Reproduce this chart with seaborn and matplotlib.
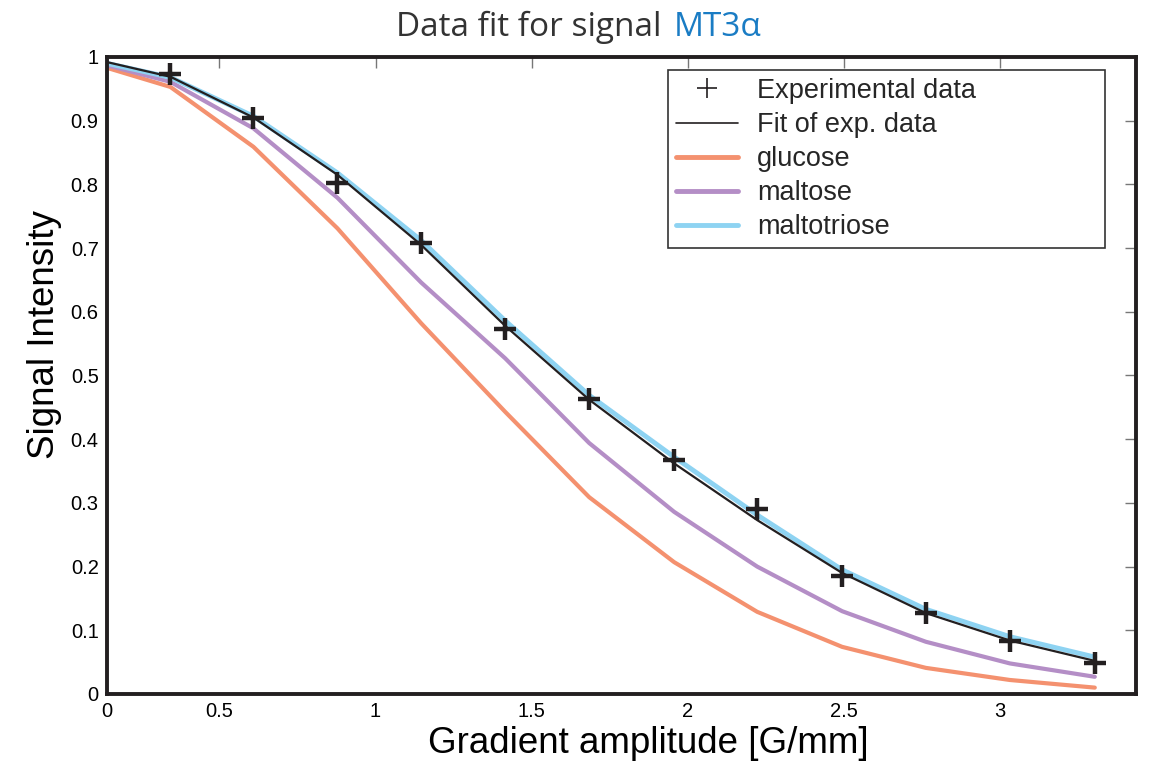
import matplotlib
matplotlib.use("Agg")
import matplotlib.pyplot as plt
import seaborn as sns
from matplotlib.lines import Line2D

# gradient amplitudes of the experimental points [G/mm]
gradient = [0.343, 0.609, 0.878, 1.146, 1.415, 1.684, 1.956, 2.222, 2.494, 2.762, 3.031, 3.303]
experimental = [0.973, 0.904, 0.802, 0.708, 0.573, 0.463, 0.367, 0.290, 0.185, 0.127, 0.083, 0.049]

# curves start at the left edge of the plot
x_start = 0.14
x_curve = [x_start] + gradient
fit = [0.992, 0.969, 0.905, 0.815, 0.705, 0.578, 0.462, 0.362, 0.273, 0.190, 0.127, 0.084, 0.052]
glucose = [0.983, 0.953, 0.859, 0.731, 0.582, 0.443, 0.309, 0.207, 0.129, 0.074, 0.041, 0.022, 0.010]
maltose = [0.987, 0.961, 0.888, 0.779, 0.646, 0.527, 0.394, 0.286, 0.200, 0.130, 0.082, 0.048, 0.027]
maltotriose = [0.990, 0.968, 0.907, 0.818, 0.712, 0.586, 0.469, 0.372, 0.281, 0.195, 0.133, 0.090, 0.058]

xtick_pos = [x_start, 0.5, 1, 1.5, 2, 2.5, 3]
xtick_labels = ["0", "0.5", "1", "1.5", "2", "2.5", "3"]
ytick_pos = [0, 0.1, 0.2, 0.3, 0.4, 0.5, 0.6, 0.7, 0.8, 0.9, 1]
ytick_labels = ["0", "0.1", "0.2", "0.3", "0.4", "0.5", "0.6", "0.7", "0.8", "0.9", "1"]

couleurs = {
    "glucose": "#f4916f",
    "maltose": "#b48ec6",
    "maltotriose": "#8ed3f2",
}
noir = "#231f20"

sns.set_theme(style="white")
plt.rcParams["font.family"] = ["Liberation Sans", "DejaVu Sans"]

fig = plt.figure(figsize=(11.49, 7.66), dpi=100)
ax = fig.add_axes([0.0931, 0.094, 0.8956, 0.8316])

sns.lineplot(x=x_curve, y=glucose, color=couleurs["glucose"], linewidth=3, ax=ax,
             sort=False, estimator=None)
sns.lineplot(x=x_curve, y=maltose, color=couleurs["maltose"], linewidth=3, ax=ax,
             sort=False, estimator=None)
sns.lineplot(x=x_curve, y=maltotriose, color=couleurs["maltotriose"], linewidth=3.5, ax=ax,
             sort=False, estimator=None)
sns.lineplot(x=x_curve, y=fit, color=noir, linewidth=1.6, ax=ax,
             sort=False, estimator=None)
sns.scatterplot(x=gradient, y=experimental, marker="+", s=240, linewidth=3.2,
                color=noir, ax=ax, zorder=5)

ax.set_xlim(x_start, 3.435)
ax.set_ylim(0, 1)
ax.set_xticks(xtick_pos)
ax.set_xticklabels(xtick_labels)
ax.set_yticks(ytick_pos)
ax.set_yticklabels(ytick_labels)
ax.tick_params(axis="both", direction="in", length=8, width=1, color="#777777",
               labelsize=14.5, labelcolor="black", top=True, right=True, pad=6)

for spine in ax.spines.values():
    spine.set_linewidth(2.8)
    spine.set_color(noir)

ax.set_xlabel("Gradient amplitude [G/mm]", fontsize=26.5, color="black")
ax.xaxis.set_label_coords(0.526, -0.05)
ax.set_ylabel("Signal Intensity", fontsize=26.5, color="black")
ax.yaxis.set_label_coords(-0.044, 0.565)

# titre en deux couleurs
fig.text(0.5753, 0.953, "Data fit for signal", ha="right", va="baseline",
         fontsize=24, color="#333333", family=["Open Sans", "DejaVu Sans"])
fig.text(0.5865, 0.953, "MT3\u03b1", ha="left", va="baseline",
         fontsize=24, color="#1a7cc4", family=["Open Sans", "DejaVu Sans"])

handles = [
    Line2D([], [], color=noir, marker="+", linestyle="none", markersize=14, markeredgewidth=1.2),
    Line2D([], [], color=noir, linewidth=1.2),
    Line2D([], [], color=couleurs["glucose"], linewidth=3.5),
    Line2D([], [], color=couleurs["maltose"], linewidth=3.5),
    Line2D([], [], color=couleurs["maltotriose"], linewidth=3.5),
]
labels = ["Experimental data", "Fit of exp. data", "glucose", "maltose", "maltotriose"]
leg = ax.legend(handles, labels, loc="upper left", bbox_to_anchor=(0.545, 0.5, 0.425, 0.48),
                mode="expand", borderaxespad=0, fontsize=19.5, frameon=True, fancybox=False,
                handlelength=2.3, handletextpad=0.7, labelspacing=0.3, borderpad=0.3)
leg.get_frame().set_edgecolor("black")
leg.get_frame().set_linewidth(1.2)

fig.savefig("out.png", dpi=100)
